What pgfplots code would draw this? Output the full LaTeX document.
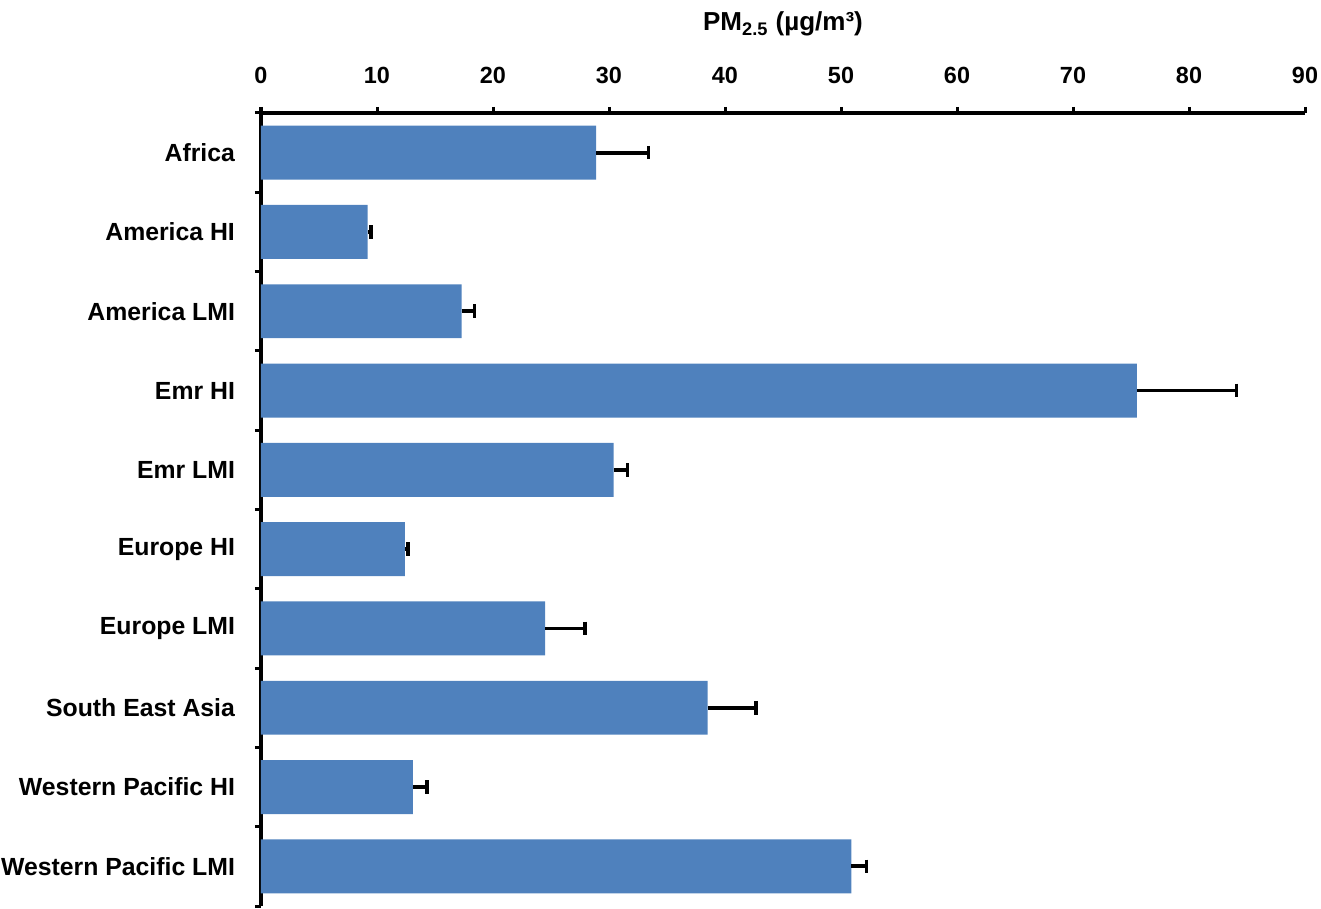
\documentclass[border=0pt]{standalone}
\usepackage{fontspec}
\setmainfont{Liberation Sans}
\usepackage{pgfplots}
\usepackage{pgfplotstable}
\pgfplotsset{compat=1.18}
\usetikzlibrary{calc}
\definecolor{barblue}{HTML}{4F81BD}

% y = position from bottom, x = mean, ex = upper error
\pgfplotstableread{
y  x     ex
9  28.9  4.5
8  9.2   0.3
7  17.3  1.1
6  75.5  8.6
5  30.4  1.2
4  12.4  0.3
3  24.5  3.4
2  38.5  4.2
1  13.1  1.2
0  50.9  1.3
}\pmdata

\begin{document}
\begin{tikzpicture}
\begin{axis}[
  name=ax,
  scale only axis,
  width=522pt, height=396.5pt,
  xmin=0, xmax=90,
  ymin=-0.5, ymax=9.5,
  axis x line*=top,
  axis y line*=left,
  axis line style={line width=1.8pt},
  xtick={0,10,...,90},
  xticklabel style={font=\fontsize{11.7}{14}\selectfont\bfseries, anchor=center, yshift=16pt},
  /pgf/number format/assume math mode=true,
  major tick length=3pt,
  tick align=outside,
  every tick/.style={black, line width=1.5pt},
  ytick={-0.5,0.5,...,9.5},
  yticklabels={},
  extra y ticks={0,...,9},
  extra y tick labels={Western Pacific LMI, Western Pacific HI, South East Asia, Europe LMI, Europe HI, Emr LMI, Emr HI, America LMI, America HI, Africa},
  extra y tick style={major tick length=0pt, yticklabel style={font=\fontsize{12.4}{14}\selectfont\bfseries, anchor=east, xshift=-9.5pt}},
  title={PM\textsubscript{2.5} (µg/m³)},
  title style={font=\fontsize{13}{15}\selectfont\bfseries, at={(0.5,1)}, anchor=center, yshift=38.5pt},
]
\addplot[xbar, bar width=0.68, fill=barblue, draw=none,
  error bars/.cd, x dir=plus, x explicit,
  error bar style={line width=1.9pt, black},
  error mark options={line width=1.9pt, black, mark size=3.4pt, rotate=90}]
  table[x=x, y=y, x error=ex] {\pmdata};
\end{axis}
\pgfresetboundingbox
\path ($(ax.south west)+(-130.5pt,-1pt)$) rectangle ($(ax.north east)+(8pt,56.5pt)$);
\end{tikzpicture}
\end{document}
